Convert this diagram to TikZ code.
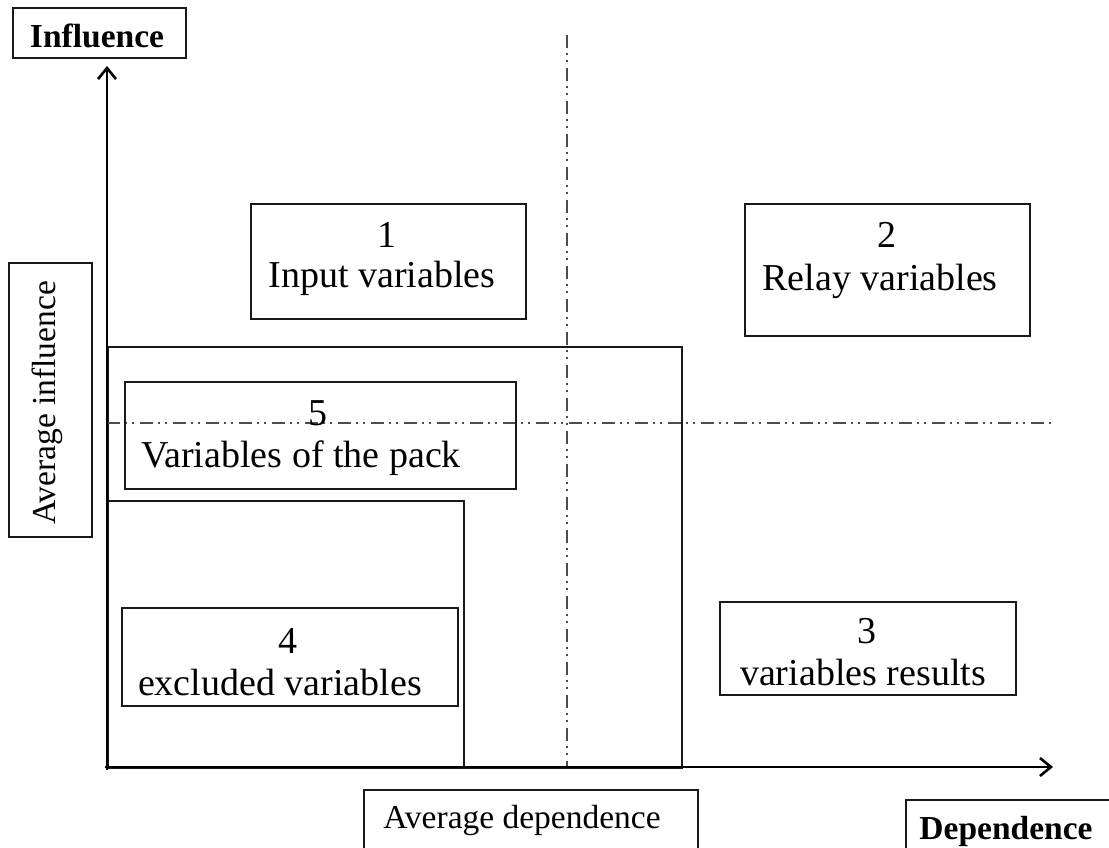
\documentclass[tikz,border=0pt]{standalone}
\usepackage{fontspec}
\setmainfont{Liberation Serif}
\usetikzlibrary{arrows.meta}
\begin{document}
\begin{tikzpicture}[x=1pt,y=-1pt,
  frame/.style={draw=black!90, line width=1.6pt, inner sep=0pt, anchor=north west},
  axis/.style={line width=2.8pt, -{Straight Barb[length=11pt,width=18pt,line width=2.6pt]}},
  guide/.style={draw=black!70, line width=1.5pt, dash pattern=on 13pt off 5pt on 2pt off 5pt on 2pt off 6pt},
  big/.style={font=\fontsize{38}{40}\selectfont, inner sep=0pt, anchor=base},
  lab/.style={font=\fontsize{33.5}{36}\selectfont, inner sep=0pt, anchor=base},
  blab/.style={font=\fontsize{33.5}{36}\selectfont\bfseries, inner sep=0pt, anchor=base},
]
\clip (0,0) rectangle (1109,847);
\fill[white] (0,0) rectangle (1109,847);

% regions
\node[frame, minimum width=574pt, minimum height=421pt] (packzone) at (107,346) {};
\node[frame, minimum width=356pt, minimum height=267pt] (exclzone) at (107,500) {};

% guide lines
\coordinate (vtop) at (567,35);
\coordinate (vbot) at (567,767);
\coordinate (hleft) at (107,423);
\coordinate (hright) at (1052,423);
\draw[guide] (vtop) -- (vbot);
\draw[guide] (hleft) -- (hright);

% axes
\coordinate (O) at (107,770);
\coordinate (ytip) at (107,66);
\coordinate (xorig) at (105,767);
\coordinate (xtip) at (1053,767);
\draw[axis] (O) -- (ytip);
\draw[axis] (xorig) -- (xtip);

% boxes
\node[frame, minimum width=275pt, minimum height=115pt] (b1) at (250,203) {};
\node[big] (n1) at (387,247) {1};
\node[big] (t1) at (382,287) {Input variables};

\node[frame, minimum width=285pt, minimum height=132pt] (b2) at (744,203) {};
\node[big] (n2) at (887,247) {2};
\node[big] (t2) at (880,290) {Relay variables};

\node[frame, minimum width=391pt, minimum height=107pt] (b5) at (124,381) {};
\node[big] (n5) at (318,425) {5};
\node[big] (t5) at (301,467) {Variables of the pack};

\node[frame, minimum width=336pt, minimum height=98pt] (b4) at (121,607) {};
\node[big] (n4) at (288,653) {4};
\node[big] (t4) at (280,695) {excluded variables};

\node[frame, minimum width=296pt, minimum height=93pt] (b3) at (719,601) {};
\node[big] (n3) at (867,643) {3};
\node[big] (t3) at (863,685) {variables results};

% axis labels
\node[frame, minimum width=173pt, minimum height=50pt] (binf) at (12,7) {};
\node[blab] (tinf) at (97,47) {Influence};

\node[frame, minimum width=83pt, minimum height=274pt] (bavi) at (8,262) {};
\node[lab, rotate=90] (tavi) at (55,403) {Average influence};

\node[frame, minimum width=334pt, minimum height=120pt] (bavd) at (363,789) {};
\node[lab] (tavd) at (522,828) {Average dependence};

\node[frame, minimum width=220pt, minimum height=120pt] (bdep) at (905,799) {};
\node[blab] (tdep) at (1006,839) {Dependence};
\end{tikzpicture}
\end{document}
